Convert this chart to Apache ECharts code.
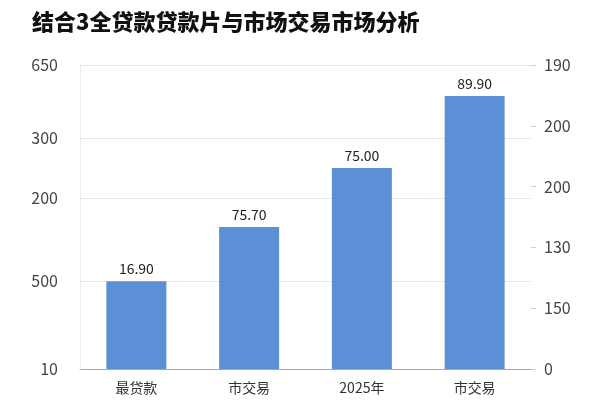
<!DOCTYPE html>
<html>
<head>
<meta charset="utf-8">
<script src="https://cdn.jsdelivr.net/npm/echarts@6/dist/echarts.min.js"></script>
<style>
html,body{margin:0;padding:0;background:#fff;}
#chart{width:600px;height:400px;}
</style>
</head>
<body>
<div id="chart"></div>
<script>
var titleText = '结合3全贷款贷款片与市场交易市场分析';
var categories = ['最贷款', '市交易', '2025年', '市交易'];
var barValues = [28.9, 46.7, 66.1, 89.8];
var valueLabels = ['16.90', '75.70', '75.00', '89.90'];
var leftTickValues = [0, 28.9, 56.25, 76, 100];
var leftTickLabels = ['10', '500', '200', '300', '650'];
var rightTickLabels = ['0', '150', '130', '200', '200', '190'];

var font = '"Noto Sans CJK SC", "Noto Sans", sans-serif';
var chart = echarts.init(document.getElementById('chart'));
chart.setOption({
  animation: false,
  title: {
    text: titleText,
    left: 27, top: 6,
    textStyle: {fontSize: 22, fontWeight: 900, color: '#111', fontFamily: font}
  },
  grid: {left: 80, right: 69, top: 65, bottom: 31},
  xAxis: {
    type: 'category',
    data: categories,
    axisLine: {show: true, lineStyle: {color: '#a8a8a8', width: 1}},
    axisTick: {show: false},
    axisLabel: {color: '#333', fontSize: 14, margin: 12, fontFamily: font}
  },
  yAxis: [{
    type: 'value', min: 0, max: 100, position: 'left',
    axisLine: {show: true, lineStyle: {color: '#ececec'}},
    axisTick: {show: false, customValues: leftTickValues},
    splitLine: {show: true, lineStyle: {color: '#e6e6e6'}},
    axisLabel: {
      customValues: leftTickValues,
      color: '#444', fontSize: 16, margin: 22, fontFamily: font,
      formatter: function (v) {
        var i = leftTickValues.indexOf(v);
        return i >= 0 ? leftTickLabels[i] : '';
      }
    }
  }, {
    type: 'value', min: 0, max: 100, interval: 20, position: 'right',
    axisLine: {show: false},
    axisTick: {show: true, length: 5, lineStyle: {color: '#cfcfcf'}},
    splitLine: {show: false},
    axisLabel: {
      color: '#444', fontSize: 16, margin: 13, fontFamily: font,
      formatter: function (v) {
        return rightTickLabels[Math.round(v / 20)];
      }
    }
  }],
  series: [{
    type: 'bar',
    yAxisIndex: 0,
    data: barValues,
    barWidth: 60,
    itemStyle: {color: '#5b8fd6'},
    label: {
      show: true, position: 'top', distance: 5,
      color: '#222', fontSize: 14, fontFamily: font,
      formatter: function (p) { return valueLabels[p.dataIndex]; }
    }
  }]
});
</script>
</body>
</html>
